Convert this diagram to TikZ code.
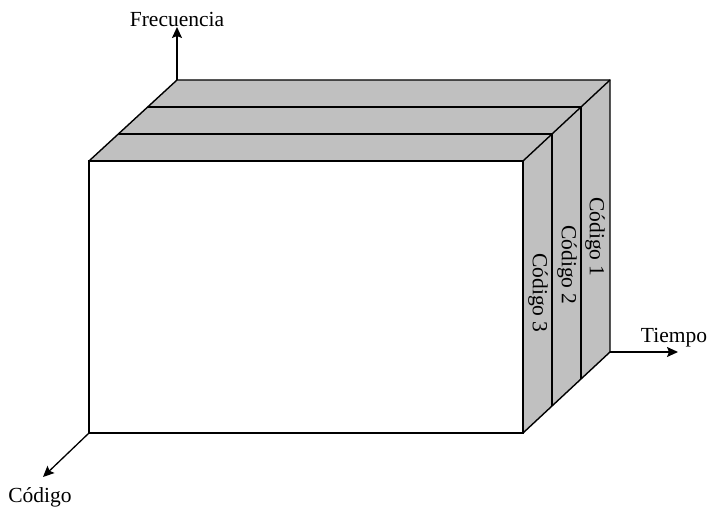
\documentclass[tikz,border=0pt]{standalone}
\usepackage{fontspec}
\setmainfont{Liberation Serif}
\usetikzlibrary{arrows.meta}
\definecolor{slicegray}{RGB}{192,192,192}
\tikzset{
  edge/.style={line width=1.4pt, line join=miter},
  axis/.style={line width=1.3pt, -{Stealth[length=11pt,width=10pt,inset=2pt]}},
  lbl/.style={font=\fontsize{21.5}{25}\selectfont, inner sep=0pt},
}
\begin{document}
\begin{tikzpicture}[x=1pt,y=-1pt]
\useasboundingbox (0,0) rectangle (710,508);
% corners
\coordinate (FTL) at (89,161);
\coordinate (FTR) at (523,161);
\coordinate (FBR) at (523,433);
\coordinate (FBL) at (89,433);
\coordinate (BTL) at (177,80);
\coordinate (BTR) at (610,80);
\coordinate (BBR) at (610,352);
\coordinate (M1L) at (119,134);
\coordinate (M1R) at (552,134);
\coordinate (M1B) at (552,406);
\coordinate (M2L) at (148,107);
\coordinate (M2R) at (581,107);
\coordinate (M2B) at (581,379);
% axis ends
\coordinate (FreqEnd) at (177,27);
\coordinate (TiemEnd) at (678,352);
\coordinate (CodEnd) at (43,477);
% faces
\fill[slicegray] (FTL) -- (BTL) -- (BTR) -- (FTR) -- cycle;
\fill[slicegray] (FTR) -- (BTR) -- (BBR) -- (FBR) -- cycle;
\draw[edge, fill=white] (FTL) rectangle (FBR);
\draw[edge] (FTL) -- (BTL) -- (BTR) -- (BBR) -- (FBR);
\draw[edge] (FTR) -- (BTR);
\draw[edge] (M1L) -- (M1R) -- (M1B);
\draw[edge] (M2L) -- (M2R) -- (M2B);
% axes
\draw[axis] (BTL) -- (FreqEnd);
\draw[axis] (BBR) -- (TiemEnd);
\draw[axis] (FBL) -- (CodEnd);
% labels
\node[lbl] (frec) at (177,19) {Frecuencia};
\node[lbl] (tiem) at (674,338) {Tiempo};
\node[lbl] (cod) at (40,497) {Código};
\node[lbl, rotate=-90] (c1) at (595,237) {Código 1};
\node[lbl, rotate=-90] (c2) at (567,265) {Código 2};
\node[lbl, rotate=-90] (c3) at (538,293) {Código 3};
\end{tikzpicture}
\end{document}
